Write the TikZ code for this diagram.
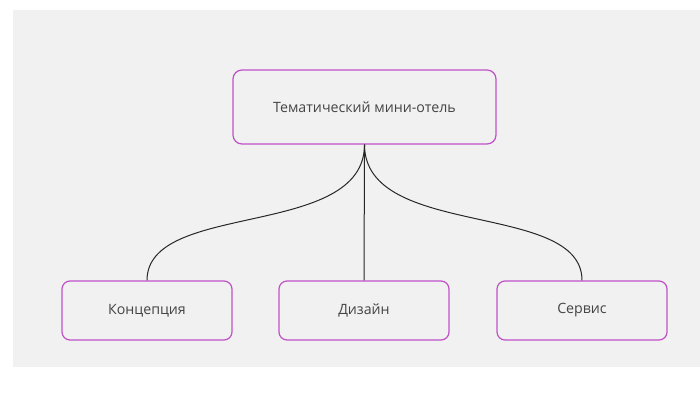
\documentclass[tikz,border=0pt]{standalone}
\usepackage{fontspec}
\setmainfont{Open Sans}
\definecolor{bgray}{HTML}{F1F1F1}
\definecolor{boxc}{HTML}{C050C8}
\definecolor{txt}{HTML}{444444}
\begin{document}
\begin{tikzpicture}[x=1pt,y=-1pt,
  box/.style={draw=boxc,line width=1.2pt,rounded corners=9pt,fill=bgray,text=txt,font=\fontsize{14.2pt}{16pt}\selectfont,inner sep=0pt},
  conn/.style={draw=black!85,line width=1pt}]
\useasboundingbox (0,0) rectangle (700,395);
\fill[white] (0,0) rectangle (700,395);
\fill[bgray] (13,10) rectangle (700,367);
\node[box,minimum width=263pt,minimum height=74pt] (top) at (364.5,107) {Тематический мини-отель};
\node[box,minimum width=170pt,minimum height=59pt,rounded corners=8pt] (k) at (147,310.5) {Концепция};
\node[box,minimum width=170pt,minimum height=59pt,rounded corners=8pt] (d) at (364,310.5) {Дизайн};
\node[box,minimum width=170pt,minimum height=59pt,rounded corners=8pt] (s) at (582,310.5) {Сервис};
\draw[conn] (top.south) .. controls +(0,95) and +(0,-80) .. (k.north);
\draw[conn] (top.south) -- (d.north);
\draw[conn] (top.south) .. controls +(0,95) and +(0,-80) .. (s.north);
\end{tikzpicture}
\end{document}
